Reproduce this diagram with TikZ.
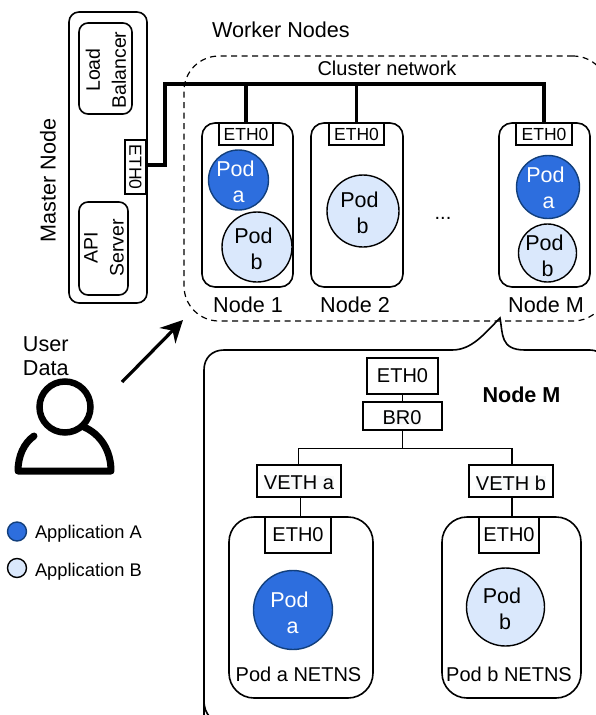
\documentclass[tikz,border=0pt]{standalone}
\usepackage{fontspec}
\setmainfont{Liberation Sans}
\usetikzlibrary{arrows.meta,calc}
\definecolor{podA}{HTML}{2D6EDE}
\definecolor{podAline}{HTML}{123F7C}
\definecolor{podB}{HTML}{DAE8FC}
\definecolor{softbg}{HTML}{F8F9FA}
\newcommand{\fs}[1]{\fontsize{#1}{#1}\selectfont}
\tikzset{
  x=1pt,y=-1pt,
  every node/.style={inner sep=0pt,outer sep=0pt,text=black},
  rbox/.style n args={3}{draw=black,line width=1.6pt,rounded corners=#3,minimum width=#1,minimum height=#2},
  sbox/.style n args={2}{draw=black,line width=1.6pt,fill=white,minimum width=#1,minimum height=#2},
  podacirc/.style={circle,draw=podAline,line width=1.4pt,fill=podA,minimum size=#1},
  podbcirc/.style={circle,draw=black,line width=1.4pt,fill=podB,minimum size=#1},
  podtext/.style={align=center,font=\fontsize{21.5}{26}\selectfont},
  lab/.style={font=\fs{21.6}},
  ethS/.style={font=\fs{17.5}},
  ethB/.style={font=\fs{20}},
  bus/.style={line width=3.6pt,line join=miter},
  thin link/.style={line width=1.8pt},
}
\begin{document}
\begin{tikzpicture}
\useasboundingbox (0,0) rectangle (596,715);
\clip (0,0) rectangle (596,715);

% Master node
\node[rbox={78pt}{291pt}{10pt}] (master) at (108,157.5) {};
\node[rbox={53pt}{91pt}{9pt},rotate=90,minimum width=91pt,minimum height=53pt] (lb) at (105.5,68.5) {};
\node[rotate=90,align=center,font=\fontsize{19.5}{26}\selectfont] (lbt) at (106,70) {Load\\Balancer};
\node[rbox={49pt}{93pt}{9pt},rotate=90,minimum width=93pt,minimum height=49pt] (api) at (103.5,248.5) {};
\node[rotate=90,align=center,font=\fontsize{19.5}{26}\selectfont] (apit) at (104,248) {API\\Server};
\node[sbox={54pt}{21pt},rotate=-90,font=\fs{17.5}] (meth) at (135.5,167) {ETH0};
\node[rotate=90,font=\fs{21.6}] (mastert) at (48,180.5) {Master Node};

% Worker area
\node[lab] (wt) at (281,30) {Worker Nodes};
\node[draw=black,line width=1.2pt,dash pattern=on 6pt off 4.5pt,rounded corners=35pt,minimum width=424pt,minimum height=265pt] (cluster) at (396,188.5) {};
\node[font=\fs{20}] (cn) at (387,68) {Cluster network};

% Nodes
\node[rbox={91pt}{164pt}{13pt}] (n1) at (247.5,205) {};
\node[rbox={92pt}{164pt}{13pt}] (n2) at (357,205) {};
\node[rbox={91pt}{164pt}{13pt}] (nm) at (544.5,205) {};
\node[sbox={54pt}{22pt},ethS] (e1) at (246,134) {ETH0};
\node[sbox={55pt}{22pt},ethS] (e2) at (356.5,134) {ETH0};
\node[sbox={56pt}{22pt},ethS] (em) at (544,134) {ETH0};

% Cluster bus
\coordinate (busL) at (165,84);
\coordinate (busR) at (em.north |- busL);
\draw[bus] (master.east |- 0,165) -| (busL) -- (busR) -- (em.north);
\draw[bus] (e1.north |- busL) -- (e1.north);
\draw[bus] (e2.north |- busL) -- (e2.north);

% Pods
\node[podacirc=60pt] (p1a) at (238.5,180) {};
\node[podtext,text=white] at (235.5,182) {Pod\\\hspace*{6pt}a};
\node[podbcirc=70pt] (p1b) at (257,247) {};
\node[podtext] at (253.5,249) {Pod\\\hspace*{6pt}b};
\node[podbcirc=72pt] (p2b) at (363,211) {};
\node[podtext] at (359.5,213) {Pod\\\hspace*{6pt}b};
\node[podacirc=63pt] (pma) at (548,187) {};
\node[podtext,text=white] at (545.5,187.5) {Pod\\\hspace*{6pt}a};
\node[podbcirc=58pt] (pmb) at (547.5,253) {};
\node[podtext] at (544.5,256) {Pod\\\hspace*{6pt}b};
\node[font=\fs{20}] (dots) at (443,218) {...};
\node[lab] (l1) at (248,305) {Node 1};
\node[lab] (l2) at (355,305) {Node 2};
\node[lab] (lm) at (546,305) {Node M};

% Callout
\draw[line width=1.6pt] (204,722) -- (204,370) .. controls (204,358) and (212,350) .. (224,350)
  -- (452,350) .. controls (472,350) and (484,334) .. (500,318)
  .. controls (503,334) and (500,350) .. (525,350)
  -- (590,350) .. controls (600,350) and (608,358) .. (610,370);
\draw[line width=1.6pt] (204,700) .. controls (204,708) and (206,713) .. (210,717);

\node[font=\bfseries\fs{21.6}] (nmt) at (521.5,395) {Node M};
\node[sbox={71pt}{36pt},ethB] (ebig) at (402.5,376) {ETH0};
\node[sbox={79pt}{28pt}] (br) at (402.5,416) {};
\node[ethB,fill=softbg] (brt) at (402,418) {BR0};
\node[sbox={84pt}{32pt}] (va) at (299,481) {};
\node[ethB,fill=softbg] (vat) at (299,483) {VETH a};
\node[sbox={84pt}{32pt}] (vb) at (511,481) {};
\node[ethB,fill=softbg] (vbt) at (511,483) {VETH b};
\node[rbox={144pt}{181pt}{25pt}] (nsa) at (301,607.5) {};
\node[rbox={139pt}{181pt}{25pt}] (nsb) at (511.5,607.5) {};
\node[sbox={66pt}{36pt},ethB] (ea) at (298,535) {ETH0};
\node[sbox={60pt}{36pt},ethB] (eb) at (509,535) {ETH0};

\coordinate (splitY) at (402.5,448.5);
\draw[thin link] (ebig.south) -- (br.north);
\draw[thin link] (br.south) -- (splitY);
\draw[thin link] (va.north -| 298.5,0) |- (splitY) -| (vb.north -| 512,0);
\draw[thin link] (va.south -| 300.5,0) -- (ea.north -| 300.5,0);
\draw[thin link] (vb.south -| 512,0) -- (eb.north -| 512,0);

\node[podacirc=79pt] (bpa) at (293,610) {};
\node[podtext,text=white] at (289.5,612.5) {Pod\\\hspace*{6pt}a};
\node[podbcirc=78pt] (bpb) at (505.5,607) {};
\node[podtext] at (502,608.5) {Pod\\\hspace*{6pt}b};
\node[ethB] (nat) at (298.5,674) {Pod a NETNS};
\node[ethB] (nbt) at (509,674) {Pod b NETNS};

% User
\node[align=left,font=\fontsize{21.6}{24.5}\selectfont,anchor=west] (user) at (23,356) {User\\Data};
\node[circle,draw=black,line width=6.5pt,minimum size=51pt] (head) at (65,407) {};
\draw[line width=7pt,line cap=round,line join=round] (34,436) .. controls (24,443) and (18,456) .. (18,471) -- (111,471) .. controls (111,450) and (100,434) .. (84,427);

% Arrow
\coordinate (arrowS) at (122,382);
\coordinate (arrowE) at (183,320);
\draw[line width=3.2pt,-{Stealth[length=22pt,width=22pt]}] (arrowS) -- (arrowE);

% Legend
\node[podacirc=19pt] (la) at (17,531.5) {};
\node[font=\fs{18.3},anchor=west] (lat) at (35,533.5) {Application A};
\node[podbcirc=19pt] (lb2) at (17,568) {};
\node[font=\fs{18.3},anchor=west] (lbt2) at (35,571.5) {Application B};
\end{tikzpicture}
\end{document}
